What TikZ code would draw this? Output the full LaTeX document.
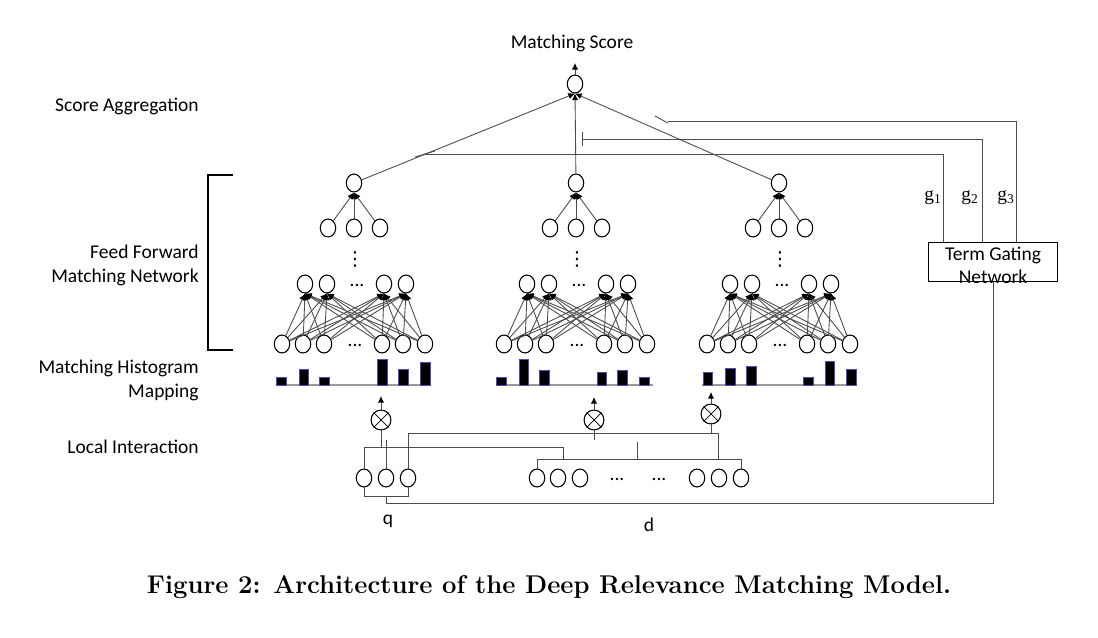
\documentclass[tikz,border=0pt]{standalone}
\usepackage{fontspec}
\setmainfont{Carlito}
\newfontfamily\capfont{lmroman12-bold.otf}
\newfontfamily\gfont{Liberation Serif}
\newfontfamily\symfont{DejaVu Sans}
\usetikzlibrary{shapes.geometric,arrows.meta}
\begin{document}
\begin{tikzpicture}[x=0.02cm, y=-0.02cm, font=\fontsize{11.1}{13.6}\selectfont,
    neuron/.style={draw, ellipse, line width=0.6pt, minimum width=8.8pt, minimum height=10.2pt, inner sep=0pt},
    prod/.style={draw, circle, line width=0.6pt, minimum size=11.3pt, inner sep=0pt},
    wire/.style={black!70, line width=0.5pt},
    feed/.style={wire, -{Latex[length=3.8pt,width=3.6pt,color=black]}},
    histbar/.style={fill=black, draw=blue!40!gray, line width=0.5pt},
    gatebox/.style={draw, line width=0.6pt, minimum width=73.1pt, minimum height=22.1pt, inner sep=0pt},
    dots/.style={inner sep=0pt},
    vdots/.style={inner sep=0pt, font=\symfont\fontsize{11}{12}\selectfont},
    layer/.style={anchor=east, align=right, inner sep=0pt}]
    \useasboundingbox (0,0) rectangle (1098,638);

    \node[layer] (laggr) at (199,106) {Score Aggregation};
    \node[layer] (lffn) at (199,265) {Feed Forward\\Matching Network};
    \node[layer] (lhist) at (199,380) {Matching Histogram\\Mapping};
    \node[layer] (llocal) at (199,447) {Local Interaction};
    \draw[line width=0.6pt] (233,175) -- (208,175) -- (208,350) -- (233,350);

    \node (score) at (572,43) {Matching Score};
    \node[neuron] (agg) at (575,84) {};
    \coordinate (out) at (575,63);
    \draw[feed] (agg) -- (out);

    \foreach \t/\tx in {1/354, 2/576, 3/779} {
        \node[neuron] (top\t) at (\tx,183) {};
        \foreach \i/\dx in {1/-26, 2/0, 3/26}
            \node[neuron] (c\t\i) at (\tx+\dx,228) {};
        \node[vdots] (vd\t) at (\tx+1,259) {⋮};
        \foreach \j/\dx in {1/-49, 2/-27, 3/30, 4/52}
            \node[neuron] (h\t\j) at (\tx+\dx,284) {};
        \node[dots] (hd\t) at (\tx+3,285) {...};
        \foreach \k/\dx in {1/-72, 2/-51, 3/-30, 4/28, 5/49, 6/71}
            \node[neuron] (in\t\k) at (\tx+\dx,344) {};
        \node[dots] (id\t) at (\tx+1,345) {...};
        \foreach \k in {1,...,6}
            \foreach \j in {1,...,4}
                \draw[feed] (in\t\k) -- (h\t\j.south);
        \foreach \i in {1,2,3}
            \draw[feed] (c\t\i) -- (top\t.south);
        \draw[feed] (top\t) -- (agg.south);
        \draw[black!40, line width=0.6pt] (\tx-77,385) -- (\tx+77,385);
    }

    \foreach \x/\h in {281.5/8, 304/16, 324.5/8, 382.5/26, 403.5/16, 425.5/23,
                       501.5/8, 524/26, 544.5/15, 602/13, 622.5/15, 644.5/8,
                       708/13, 730.5/17, 751.5/19, 808.5/8, 830/24, 851.5/16}
        \filldraw[histbar] (\x-4.7,385) rectangle (\x+4.7,385-\h);

    \node[prod] (m1) at (381,420) {};
    \node[prod] (m2) at (594,420) {};
    \node[prod] (m3) at (711,414) {};
    \foreach \m in {m1,m2,m3}
        \draw[line width=0.4pt] (\m.north east) -- (\m.south west) (\m.north west) -- (\m.south east);
    \coordinate (a1) at (381,396);
    \coordinate (a2) at (594,397);
    \coordinate (a3) at (711,392);
    \draw[feed] (m1) -- (a1);
    \draw[feed] (m2) -- (a2);
    \draw[feed] (m3) -- (a3);

    \foreach \i/\x in {1/364, 2/386, 3/408}
        \node[neuron] (q\i) at (\x,478) {};
    \foreach \i/\x in {1/537, 2/558, 3/580, 4/697, 5/719, 6/741}
        \node[neuron] (d\i) at (\x,478) {};
    \node[dots] (dd1) at (617,479) {...};
    \node[dots] (dd2) at (659,479) {...};
    \node (qlab) at (388,521) {q};
    \node (dlab) at (649,525) {d};

    \coordinate (dl) at (537,459);
    \coordinate (dr) at (741,459);
    \coordinate (j1) at (563,447);
    \coordinate (j2) at (718,433);
    \coordinate (s2) at (386,440);
    \coordinate (s3) at (637,442);
    \draw[wire] (d1.north) -- (dl) -- (dr) -- (d6.north);
    \draw[wire] (q1.north) |- (j1) -- (j1 |- dl);
    \draw[wire] (m1.south) -- (m1.south |- j1);
    \draw[wire] (q2.north) -- (s2);
    \draw[wire] (q3.north) |- (j2) -- (j2 |- dl);
    \draw[wire] (m2.south) -- (m2.south |- s2);
    \draw[wire] (m3.south) -- (m3.south |- j2);
    \draw[wire] (s3) -- (s3 |- dl);

    \node[gatebox] (gate) at (993,262) {};
    \node[align=center, font=\fontsize{11.1}{13}\selectfont] (gatetext) at (993,265) {Term Gating\\Network};

    \coordinate (qb) at (386,496);
    \coordinate (bl) at (386,503);
    \draw[wire] (q1.south) -- (q1.south |- qb) -- (q3.south |- qb) -- (q3.south);
    \draw[wire] (qb) -- (bl) -| (gate.south);

    \coordinate (g1c) at (943,154);
    \coordinate (g1e) at (425,154);
    \coordinate (g2c) at (982,139);
    \coordinate (g2e) at (582,139);
    \coordinate (g3c) at (1016,121);
    \coordinate (g3e) at (668,121);
    \draw[wire] (g1c |- gate.north) -- (g1c) -- (g1e);
    \draw[wire] (g2c |- gate.north) -- (g2c) -- (g2e);
    \draw[wire] (g3c |- gate.north) -- (g3c) -- (g3e);
    \draw[wire] (g1e) ++(-10,3) -- ++(20,-6);
    \draw[wire] (g2e) ++(0,-7) -- ++(0,14);
    \draw[wire] (g3e) ++(-13,-5) -- ++(13,7);
    \node[font=\gfont\fontsize{11}{13}\selectfont] (g1lab) at (933,198) {g\textsubscript{1}};
    \node[font=\gfont\fontsize{11}{13}\selectfont] (g2lab) at (970,198) {g\textsubscript{2}};
    \node[font=\gfont\fontsize{11}{13}\selectfont] (g3lab) at (1006,198) {g\textsubscript{3}};

    \node[font=\capfont\fontsize{14.6}{17}\selectfont] (caption) at (549,587) {Figure 2: Architecture of the Deep Relevance Matching Model.};
\end{tikzpicture}
\end{document}
